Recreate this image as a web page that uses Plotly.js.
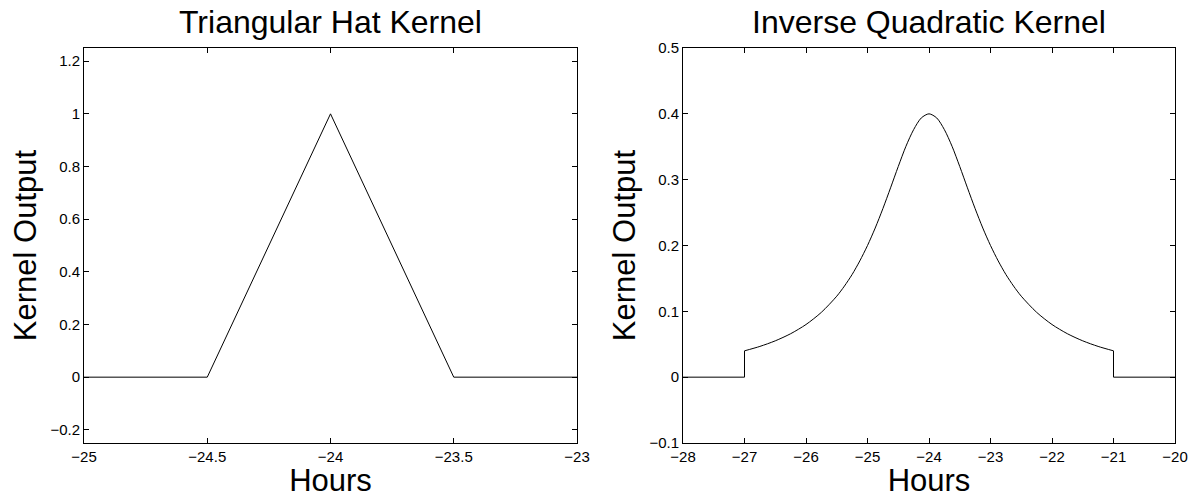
<!DOCTYPE html>
<html>
<head>
<meta charset="utf-8">
<script src="https://cdn.plot.ly/plotly-3.0.1.min.js"></script>
<style>html,body{margin:0;padding:0;background:#fff;}#chart{width:1194px;height:498px;}</style>
</head>
<body>
<div id="chart"></div>
<script>
// Triangular hat kernel
const triHours = [-25, -24.5, -24, -23.5, -23];
const triOutput = [0, 0, 1, 0, 0];

// Inverse quadratic kernel
const iqHours = [-28, -27, -27, -26.75, -26.5, -26.25, -26, -25.75, -25.5, -25.375, -25.25, -25.125, -25,
  -24.875, -24.75, -24.625, -24.5, -24.375, -24.25, -24.125, -24,
  -23.875, -23.75, -23.625, -23.5, -23.375, -23.25, -23.125, -23,
  -22.875, -22.75, -22.625, -22.5, -22.25, -22, -21.75, -21.5, -21.25, -21, -21, -20];
const iqOutput = [0, 0, 0.04, 0.0467, 0.0552, 0.066, 0.08, 0.0985, 0.123, 0.1384, 0.156, 0.1766, 0.2,
  0.2265, 0.256, 0.2876, 0.32, 0.3507, 0.376, 0.3938, 0.4,
  0.3938, 0.376, 0.3507, 0.32, 0.2876, 0.256, 0.2265, 0.2,
  0.1766, 0.156, 0.1384, 0.123, 0.0985, 0.08, 0.066, 0.0552, 0.0467, 0.04, 0, 0];

const titles = ["Triangular Hat Kernel", "Inverse Quadratic Kernel"];
const xLabel = "Hours";
const yLabel = "Kernel Output";
const triXTicks = [-25, -24.5, -24, -23.5, -23];
const triYTicks = [-0.2, 0, 0.2, 0.4, 0.6, 0.8, 1, 1.2];
const iqXTicks = [-28, -27, -26, -25, -24, -23, -22, -21, -20];
const iqYTicks = [-0.1, 0, 0.1, 0.2, 0.3, 0.4, 0.5];

const fontFam = "Liberation Sans, Arial, Helvetica, sans-serif";
const minus = v => String(v).replace('-', '\u2212');

function axisBase(extra) {
  const a = {
    showgrid: false, zeroline: false, showline: true, mirror: 'allticks',
    linecolor: '#000', linewidth: 1, ticks: 'inside', ticklen: 5, tickcolor: '#000',
    tickmode: 'array'
  };
  Object.assign(a, extra);
  a.tickfont = {family: fontFam, size: 15, color: '#000'};
  return a;
}

const lineStyle = {color: '#000', width: 1};
const n = iqHours.length;
const traces = [
  {x: triHours, y: triOutput, type: 'scatter', mode: 'lines', line: lineStyle, xaxis: 'x', yaxis: 'y', hoverinfo: 'skip'},
  // left step, smooth body, right step of the inverse quadratic kernel
  {x: iqHours.slice(0, 3), y: iqOutput.slice(0, 3), type: 'scatter', mode: 'lines', line: lineStyle, xaxis: 'x2', yaxis: 'y2', hoverinfo: 'skip'},
  {x: iqHours.slice(2, n - 2), y: iqOutput.slice(2, n - 2), type: 'scatter', mode: 'lines',
    line: {color: '#000', width: 1, shape: 'spline', smoothing: 0.8}, xaxis: 'x2', yaxis: 'y2', hoverinfo: 'skip'},
  {x: iqHours.slice(n - 3), y: iqOutput.slice(n - 3), type: 'scatter', mode: 'lines', line: lineStyle, xaxis: 'x2', yaxis: 'y2', hoverinfo: 'skip'}
];

const d1 = [84/1194, 577/1194];
const d2 = [683/1194, 1175/1194];
const titleFont = {family: fontFam, size: 31, color: '#000'};

const layout = {
  width: 1194, height: 498,
  margin: {l: 0, r: 0, t: 48, b: 55},
  paper_bgcolor: '#fff', plot_bgcolor: '#fff',
  font: {family: fontFam, size: 15, color: '#000'},
  showlegend: false,
  xaxis: axisBase({domain: d1, range: [-25, -23], anchor: 'y', tickvals: triXTicks, ticktext: triXTicks.map(minus),
    title: {text: xLabel, font: titleFont, standoff: 0}}),
  yaxis: axisBase({domain: [0, 1], range: [-0.25, 1.25], anchor: 'x', tickvals: triYTicks, ticktext: triYTicks.map(minus),
    title: {text: yLabel, font: titleFont, standoff: 4}}),
  xaxis2: axisBase({domain: d2, range: [-28, -20], anchor: 'y2', tickvals: iqXTicks, ticktext: iqXTicks.map(minus),
    title: {text: xLabel, font: titleFont, standoff: 0}}),
  yaxis2: axisBase({domain: [0, 1], range: [-0.1, 0.5], anchor: 'x2', tickvals: iqYTicks, ticktext: iqYTicks.map(minus),
    title: {text: yLabel, font: titleFont, standoff: 4}}),
  annotations: [
    {text: titles[0], xref: 'paper', yref: 'paper', x: (d1[0]+d1[1])/2, y: 1, yshift: 6, xanchor: 'center', yanchor: 'bottom', showarrow: false,
      font: {family: fontFam, size: 32, color: '#000'}},
    {text: titles[1], xref: 'paper', yref: 'paper', x: (d2[0]+d2[1])/2, y: 1, yshift: 6, xanchor: 'center', yanchor: 'bottom', showarrow: false,
      font: {family: fontFam, size: 32, color: '#000'}}
  ]
};

Plotly.newPlot('chart', traces, layout, {staticPlot: true, displayModeBar: false});
</script>
</body>
</html>
